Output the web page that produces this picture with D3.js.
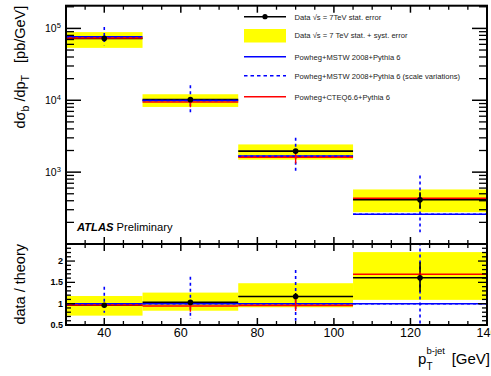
<!DOCTYPE html>
<html><head><meta charset="utf-8">
<script src="https://cdn.jsdelivr.net/npm/d3@7/dist/d3.min.js"></script>
<style>body{margin:0;background:#fff} svg{display:block;font-family:"Liberation Sans",Arial,Helvetica,sans-serif}</style>
</head><body><svg id="c" width="491" height="376"></svg>
<script>
// ---- data ----
const binEdges   = [30, 50, 75, 105, 140];
const binCenters = [40, 62.5, 90, 122.5];
// top panel: dsigma_b/dpT [pb/GeV]
const dataVal = [72600, 10200, 1960, 412];
const statLo  = [70000, 9750, 1870, 309];
const statHi  = [75200, 10650, 2060, 526];
const totLo   = [53600, 8070, 1490, 277];
const totHi   = [88800, 12130, 2430, 574];
const mstw    = [76500, 9950, 1670, 259];
const cteq    = [73500, 9450, 1620, 433];
const cteqLo  = [71800, 8000, 1320, 420];
const cteqHi  = [75200, 10000, 1960, 446];
const scaleLo = [58500, 6250, 980, 146];
const scaleHi = [105000, 16200, 3020, 899];
// ratio panel: data / theory
const rData    = [0.965, 1.03, 1.17, 1.61];
const rStatLo  = [0.93, 0.98, 1.10, 1.28];
const rStatHi  = [1.00, 1.08, 1.25, 1.97];
const rTotLo   = [0.72, 0.835, 0.915, 1.09];
const rTotHi   = [1.18, 1.26, 1.48, 2.21];
const rMstw    = [1, 1, 1, 1];
const rCteq    = [0.97, 0.945, 0.96, 1.69];
const rCteqLo  = [0.94, 0.81, 0.83, 1.64];
const rCteqHi  = [1.00, 1.00, 1.16, 1.74];
const rScaleLo = [0.79, 0.64, 0.60, 0.30];
const rScaleHi = [1.40, 1.63, 1.79, 3.00];
const xMajor = [40, 60, 80, 100, 120, 140];
const yTopLabels = [1e3, 1e4, 1e5];
const yRatioMajor = [0.5, 1, 1.5, 2];
const legendLabels = [
  "Data \u221As = 7TeV stat. error",
  "Data \u221As = 7 TeV stat. + syst. error",
  "Powheg+MSTW 2008+Pythia 6",
  "Powheg+MSTW 2008+Pythia 6 (scale variations)",
  "Powheg+CTEQ6.6+Pythia 6"
];

// ---- layout ----
const L = 66, R = 487, T1 = 5.7, B1 = 244, T2 = 244, B2 = 325;
const svg = d3.select("#c");
const x = d3.scaleLinear().domain([30, 140]).range([L, R]);
const yT = d3.scaleLog().domain([100, 2.07e5]).range([B1, T1]);
const yR = d3.scaleLinear().domain([0.5, 2.4]).range([B2, T2]);

const defs = svg.append("defs");
defs.append("clipPath").attr("id", "cp1").append("rect").attr("x", L).attr("y", T1).attr("width", R - L).attr("height", B1 - T1);
defs.append("clipPath").attr("id", "cp2").append("rect").attr("x", L).attr("y", T2).attr("width", R - L).attr("height", B2 - T2);

const idx = d3.range(binCenters.length);
function drawPanel(g, y, v) {
  g.selectAll(".band").data(idx).join("rect")
    .attr("x", i => x(binEdges[i])).attr("width", i => x(binEdges[i + 1]) - x(binEdges[i]))
    .attr("y", i => y(v.totHi[i])).attr("height", i => y(v.totLo[i]) - y(v.totHi[i]))
    .attr("fill", "#ffff00");
  g.selectAll(".sc").data(idx).join("line")
    .attr("x1", i => x(binCenters[i])).attr("x2", i => x(binCenters[i]))
    .attr("y1", i => y(v.scaleHi[i])).attr("y2", i => y(v.scaleLo[i]))
    .attr("stroke", "#0000ff").attr("stroke-width", 1.6).attr("stroke-dasharray", "3,3");
  const hline = (arr, color, w, dash) => g.append("g").selectAll("line").data(idx).join("line")
    .attr("x1", i => x(binEdges[i])).attr("x2", i => x(binEdges[i + 1]))
    .attr("y1", i => y(arr[i])).attr("y2", i => y(arr[i]))
    .attr("stroke", color).attr("stroke-width", w).attr("stroke-dasharray", dash || null);
  hline(v.data, "#000", 1.6);
  hline(v.mstw, "#0000ff", 1.6);
  hline(v.cteq, "#ff0000", 1.6);
  hline(v.mstw, "#0000ff", 1.4, "3,3");
  g.append("g").selectAll("line").data(idx).join("line")
    .attr("x1", i => x(binCenters[i])).attr("x2", i => x(binCenters[i]))
    .attr("y1", i => y(v.statHi[i])).attr("y2", i => y(v.statLo[i]))
    .attr("stroke", "#000").attr("stroke-width", 1.6);
  g.append("g").selectAll("line").data(idx).join("line")
    .attr("x1", i => x(binCenters[i])).attr("x2", i => x(binCenters[i]))
    .attr("y1", i => y(v.cteqHi[i])).attr("y2", i => y(v.cteqLo[i]))
    .attr("stroke", "#ff0000").attr("stroke-width", 1.4);
  g.append("g").selectAll("circle").data(idx).join("circle")
    .attr("cx", i => x(binCenters[i])).attr("cy", i => y(v.data[i])).attr("r", 2.8).attr("fill", "#000");
}

drawPanel(svg.append("g").attr("clip-path", "url(#cp1)"), yT, {
  data: dataVal, statLo, statHi, totLo, totHi, mstw, cteq, cteqLo, cteqHi, scaleLo, scaleHi
});
drawPanel(svg.append("g").attr("clip-path", "url(#cp2)"), yR, {
  data: rData, statLo: rStatLo, statHi: rStatHi, totLo: rTotLo, totHi: rTotHi, mstw: rMstw,
  cteq: rCteq, cteqLo: rCteqLo, cteqHi: rCteqHi, scaleLo: rScaleLo, scaleHi: rScaleHi
});

// ---- frames & ticks ----
const ax = svg.append("g").attr("stroke", "#000").attr("fill", "none");
function tick(x1, y1, x2, y2, w) { ax.append("line").attr("x1", x1).attr("y1", y1).attr("x2", x2).attr("y2", y2).attr("stroke-width", w || 1.3); }
const xMinor = d3.range(30, 141, 5).filter(v => !xMajor.includes(v));
[[T1, 1], [B1, -1], [T2, 1], [B2, -1]].forEach(([yy, dir]) => {
  xMajor.forEach(v => tick(x(v), yy, x(v), yy + dir * 7, 1.5));
  xMinor.forEach(v => tick(x(v), yy, x(v), yy + dir * 4));
});
yT.ticks().forEach(v => {
  const major = Math.abs(Math.log10(v) - Math.round(Math.log10(v))) < 1e-9;
  const len = major ? 15 : 8;
  tick(L, yT(v), L + len, yT(v), major ? 1.5 : 1.3);
  tick(R, yT(v), R - len, yT(v), major ? 1.5 : 1.3);
});
d3.range(0.5, 2.41, 0.1).forEach(v => {
  const major = yRatioMajor.some(m => Math.abs(m - v) < 1e-6);
  const len = major ? 9 : 5;
  tick(L, yR(v), L + len, yR(v));
  tick(R, yR(v), R - len, yR(v));
});
ax.append("rect").attr("x", L).attr("y", T1).attr("width", R - L).attr("height", B1 - T1).attr("stroke-width", 2);
ax.append("rect").attr("x", L).attr("y", T2).attr("width", R - L).attr("height", B2 - T2).attr("stroke-width", 2);

// ---- tick labels ----
const lab = svg.append("g").attr("fill", "#000");
xMajor.forEach(v => lab.append("text").attr("x", x(v)).attr("y", 337).attr("text-anchor", "middle")
  .attr("font-size", 12.5).text(v));
yTopLabels.forEach(v => {
  const t = lab.append("text").attr("x", 45).attr("y", yT(v) + 4).attr("font-size", 10.5);
  t.append("tspan").text("10");
  t.append("tspan").attr("dy", -4).attr("font-size", 7.5).text(Math.round(Math.log10(v)));
});
yRatioMajor.forEach(v => lab.append("text").attr("x", 63).attr("y", yR(v) + 3).attr("text-anchor", "end")
  .attr("font-size", 9).attr("font-weight", "bold").text(v));

// ---- axis titles ----
const yt = lab.append("text").attr("transform", `translate(25,${T1})rotate(-90)`).attr("text-anchor", "end").attr("font-size", 14.5);
yt.append("tspan").text("d\u03C3");
yt.append("tspan").attr("dy", 4).attr("font-size", 10.5).text("b");
yt.append("tspan").attr("dy", -4).text("\u00A0/dp");
yt.append("tspan").attr("dy", 4).attr("font-size", 10.5).text("T");
yt.append("tspan").attr("dy", -4).text("\u00A0\u00A0\u00A0[pb/GeV]");
lab.append("text").attr("transform", `translate(25,${T2})rotate(-90)`).attr("text-anchor", "end")
  .attr("font-size", 14.5).text("data / theory");
lab.append("text").attr("x", 418).attr("y", 364).attr("font-size", 15).text("p");
lab.append("text").attr("x", 426.5).attr("y", 370).attr("font-size", 10).text("T");
lab.append("text").attr("x", 426.5).attr("y", 354).attr("font-size", 9.5).text("b-jet");
lab.append("text").attr("x", 490).attr("y", 364).attr("text-anchor", "end").attr("font-size", 15).text("[GeV]");

const at = lab.append("text").attr("x", 77).attr("y", 231).attr("font-size", 11.2);
at.append("tspan").attr("font-weight", "bold").attr("font-style", "italic").text("ATLAS");
at.append("tspan").text(" Preliminary");

// ---- legend ----
const lg = svg.append("g");
const ly = [16.7, 35.5, 56.7, 75.7, 96.7];
const lx1 = 244, lx2 = 286;
lg.append("line").attr("x1", lx1).attr("x2", lx2).attr("y1", ly[0]).attr("y2", ly[0]).attr("stroke", "#000").attr("stroke-width", 1.4);
lg.append("circle").attr("cx", (lx1 + lx2) / 2).attr("cy", ly[0]).attr("r", 2.6).attr("fill", "#000");
lg.append("rect").attr("x", lx1).attr("y", ly[1] - 6.5).attr("width", lx2 - lx1).attr("height", 13.5).attr("fill", "#ffff00");
lg.append("line").attr("x1", lx1).attr("x2", lx2).attr("y1", ly[2]).attr("y2", ly[2]).attr("stroke", "#0000ff").attr("stroke-width", 1.6);
lg.append("line").attr("x1", lx1).attr("x2", lx2).attr("y1", ly[3]).attr("y2", ly[3]).attr("stroke", "#0000ff").attr("stroke-width", 1.6).attr("stroke-dasharray", "3.5,3");
lg.append("line").attr("x1", lx1).attr("x2", lx2).attr("y1", ly[4]).attr("y2", ly[4]).attr("stroke", "#ff0000").attr("stroke-width", 1.6);
legendLabels.forEach((s, i) => lg.append("text").attr("x", 294.5).attr("y", ly[i] + 2.8).attr("font-size", 7.6).attr("fill", "#222").text(s));
</script></body></html>
